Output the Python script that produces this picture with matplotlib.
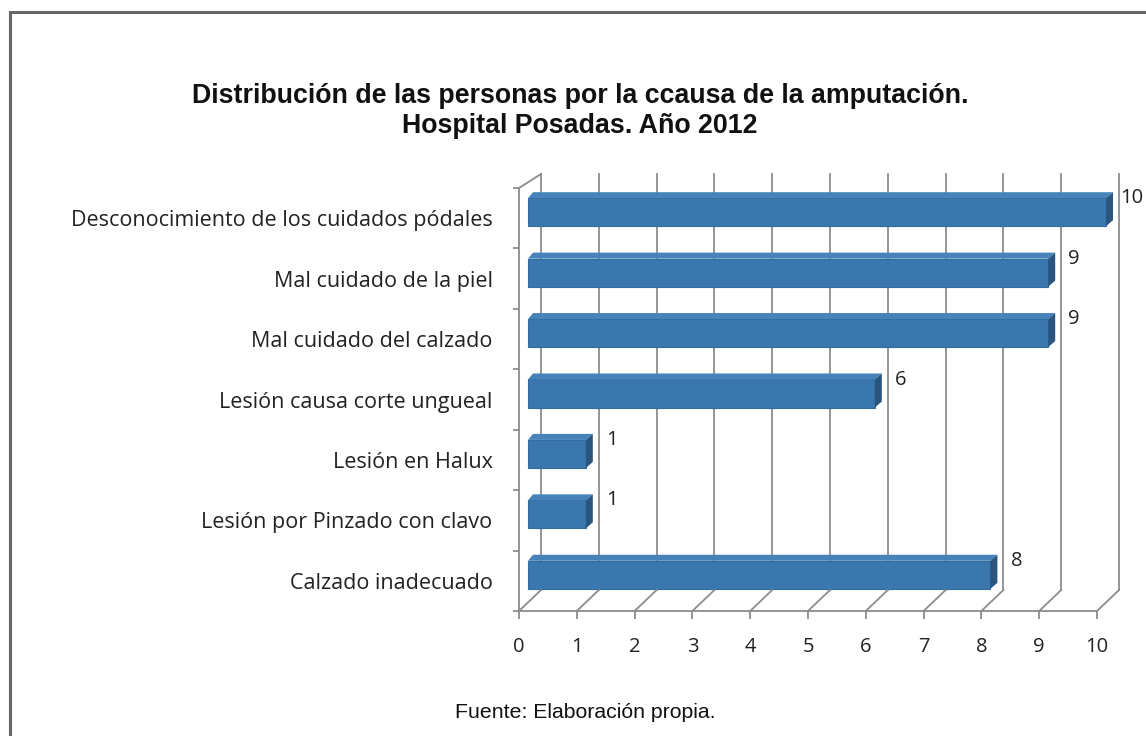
import matplotlib
matplotlib.use("Agg")
import matplotlib.pyplot as plt
from matplotlib.transforms import Affine2D, IdentityTransform
from matplotlib.patches import Polygon
from matplotlib.lines import Line2D

# ---------------- data ----------------
categories = [
    "Desconocimiento de los cuidados pódales",
    "Mal cuidado de la piel",
    "Mal cuidado del calzado",
    "Lesión causa corte ungueal",
    "Lesión en Halux",
    "Lesión por Pinzado con clavo",
    "Calzado inadecuado",
]
values = [10, 9, 9, 6, 1, 1, 8]
x_ticks = list(range(0, 11))
title_lines = ["Distribución de las personas por la ccausa de la amputación.",
               "Hospital Posadas. Año 2012"]
source_text = "Fuente: Elaboración propia."

# ---------------- style ----------------
W, H, DPI = 1146, 736, 100
LABEL_FONT = "Open Sans"
GRID = "#8c8c8c"
BAR_FRONT = "#3a77ae"
BAR_SIDE = "#29557f"
BAR_TOP = "#4683ba"

fig = plt.figure(figsize=(W / DPI, H / DPI), dpi=DPI)
fig.patch.set_facecolor("white")

def fx(px):
    return px / W

def fy(py):
    return 1 - py / H

ax_l, ax_r, ax_t, ax_b = 519, 1097, 188, 611
ax = fig.add_axes([fx(ax_l), fy(ax_b), (ax_r - ax_l) / W, (ax_b - ax_t) / H])
n = len(categories)
ax.set_xlim(x_ticks[0], x_ticks[-1])
ax.set_ylim(n - 0.5, -0.5)
ax.set_facecolor("none")

for s in ("top", "right"):
    ax.spines[s].set_visible(False)
for s in ("left", "bottom"):
    ax.spines[s].set_color(GRID)
    ax.spines[s].set_linewidth(1.3)

ax.set_xticks(x_ticks)
ax.set_xticklabels([str(t) for t in x_ticks], fontfamily=LABEL_FONT, fontsize=14.5, color="#222222")
ax.tick_params(axis="x", direction="out", length=6, width=1.3, color=GRID, pad=13)
ax.set_yticks(range(n))
ax.set_yticklabels(categories, fontfamily=LABEL_FONT, fontsize=15.5, color="#222222")
ax.tick_params(axis="y", which="major", length=0, pad=19)
ax.set_yticks([i - 0.5 for i in range(n + 1)], minor=True)
ax.tick_params(axis="y", which="minor", direction="out", length=4.5, width=1.3, color=GRID)

# perspective transform to the back wall (pixel space)
back_tr = ax.transData + Affine2D().scale(1, 0.9835).translate(22, 23.06)

# back wall gridlines
for k in x_ticks:
    ax.add_line(Line2D([k, k], [n - 0.5, -0.5], transform=back_tr, color=GRID,
                       lw=1.3, clip_on=False, zorder=1))

def seg(p, q, **kw):
    fig.add_artist(Line2D([p[0], q[0]], [p[1], q[1]], transform=IdentityTransform(), **kw))

# floor diagonals
for k in x_ticks:
    p = ax.transData.transform((k, n - 0.5))
    q = back_tr.transform((k, n - 0.5))
    seg(p, q, color=GRID, lw=1.3, zorder=1)
# top-left diagonal of side wall
p = ax.transData.transform((0, -0.5))
q = back_tr.transform((0, -0.5))
seg(p, q, color=GRID, lw=1.3, zorder=1)

# bars (front face)
bar_h = 0.464
bar_tr = ax.transData + Affine2D().translate(9, 6)
bars = ax.barh(range(n), values, height=bar_h, left=0, color=BAR_FRONT,
               edgecolor="#346ca0", linewidth=0.8, transform=bar_tr, zorder=3, clip_on=False)

depth = (7, 6)
for i, v in enumerate(values):
    lt = bar_tr.transform((0, i - bar_h / 2))
    rt = bar_tr.transform((v, i - bar_h / 2))
    rb = bar_tr.transform((v, i + bar_h / 2))
    cap = [rt, rb, (rb[0] + depth[0], rb[1] + depth[1]), (rt[0] + depth[0], rt[1] + depth[1])]
    top = [lt, rt, (rt[0] + depth[0], rt[1] + depth[1]), (lt[0] + depth[0] - 2, lt[1] + depth[1])]
    fig.add_artist(Polygon(top, closed=True, transform=IdentityTransform(),
                           facecolor=BAR_TOP, edgecolor="none", zorder=4))
    fig.add_artist(Polygon(cap, closed=True, transform=IdentityTransform(),
                           facecolor=BAR_SIDE, edgecolor="none", zorder=4))

# data labels
lab_tr = ax.transData + Affine2D().translate(35, 20)
for i, v in enumerate(values):
    ax.text(v, i, str(v), transform=lab_tr, ha="center", va="center",
            fontfamily=LABEL_FONT, fontsize=14.5, color="#222222", zorder=5, clip_on=False)

# title and source
fig.text(fx(580), fy(96), title_lines[0], ha="center", va="center",
         fontfamily="Liberation Sans", fontweight="bold", fontsize=19.3, color="#111111")
fig.text(fx(580), fy(126), title_lines[1], ha="center", va="center",
         fontfamily="Liberation Sans", fontweight="bold", fontsize=19.3, color="#111111")
fig.text(fx(585), fy(712), source_text, ha="center", va="center",
         fontfamily="Liberation Sans", fontsize=15.3, color="#111111")

# outer frame (left and top edges visible)
fig.add_artist(Line2D([10, 10, W + 5], [0, H - 12, H - 12], transform=IdentityTransform(),
                      color="#666666", lw=2.2, solid_joinstyle="miter"))

fig.savefig("out.png", dpi=DPI, facecolor="white")
